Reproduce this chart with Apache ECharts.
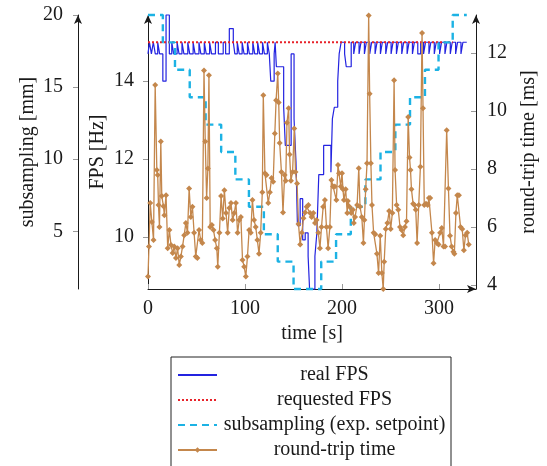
<!DOCTYPE html>
<html>
<head>
<meta charset="utf-8">
<script src="https://cdn.jsdelivr.net/npm/echarts@6/dist/echarts.min.js"></script>
<style>
html,body{margin:0;padding:0;background:#fff}
#main{width:547px;height:466px}
</style>
</head>
<body>
<div id="main"></div>
<script>
const xTicks = [0, 100, 200, 300]
const subTicks = [5, 10, 15, 20]
const fpsTicks = [10, 12, 14]
const rttTicks = [4, 6, 8, 10, 12]

const legendNames = ['real FPS', 'requested FPS', 'subsampling (exp. setpoint)', 'round-trip time']

const reqTime = [0, 314]
const reqVal = [15, 15]

const subTime = [0, 15.3, 27.8, 43, 59.4, 75.4, 90, 104, 119.4, 133.7, 150, 178.5, 193.8, 209, 224, 239.6, 254.9, 270, 285.4, 299.4, 314, 328.5]
const subVal = [20, 18.1, 16.2, 14.3, 12.4, 10.5, 8.6, 6.7, 4.8, 2.9, 1, 2.9, 4.8, 6.7, 8.6, 10.5, 12.4, 14.3, 16.2, 18.1, 20, 20]

const fpsTime = [0, 1.5, 3.5, 5.5, 7.5, 10, 12, 15.3, 18.6, 22, 24.5, 26.5, 30, 32, 35, 37, 41, 43, 46.5, 48.5,
  52.5, 54.5, 58, 60, 63.5, 65.5, 69.5, 72.5, 77.5, 80, 83.8, 87.9, 89.5, 92, 94, 97, 99, 102.5, 104.5, 108,
  110, 113, 115, 118, 120, 123, 125, 126.5, 130, 131, 132.3, 139.8, 141.5, 147.5, 150.5, 152.5, 154, 156.8, 159.4, 162,
  165, 166.5, 172, 174, 176, 181, 188.5, 190, 192, 195.5, 197, 199, 202.6, 204.3, 209.4, 212, 214, 217.5, 219.5, 223,
  225, 228.5, 230.5, 234, 236, 239.5, 241.5, 245, 247, 250.5, 252.5, 256, 258, 261.5, 263.5, 267, 269, 272.5, 274.5, 278,
  281, 284, 286, 289.5, 291.5, 295, 297, 300.5, 302.5, 306, 308, 311.5, 313.5, 317, 319, 322.5, 324.5, 328.5]
const fpsVal = [14.7, 15, 14.7, 15, 14.7, 15, 14.7, 14.0, 15.7, 14.7, 15, 14.7, 15, 14.7, 15, 14.7, 15, 14.7, 15, 14.7,
  15, 14.7, 15, 14.7, 15, 14.7, 15, 14.7, 15, 14.7, 15.35, 15, 14.7, 15, 14.7, 15, 14.7, 15, 14.7, 15,
  14.7, 15, 14.7, 15, 14.7, 15, 14.7, 14.0, 14.7, 15, 14.37, 13.33, 12.35, 14.7, 13.03, 11.92, 10.29, 10.98, 9.92, 10.1,
  9.5, 8.66, 9.5, 10.1, 11.6, 12.35, 11.66, 13.03, 13.33, 14.0, 14.7, 15, 14.7, 14.37, 15, 14.7, 15, 14.7, 15, 14.7,
  15, 14.7, 15, 14.7, 15, 14.7, 15, 14.7, 15, 14.7, 15, 14.7, 15, 14.7, 15, 14.7, 15, 14.7, 15, 14.7,
  15, 14.7, 15, 14.7, 15, 14.7, 15, 14.7, 15, 14.7, 15, 14.7, 15, 14.7, 15, 14.7, 15, 15]

const rttTime = [0, 1.0, 2.3, 4.0, 5.7, 7.4, 9.1, 10.0, 10.8, 11.8, 13.2, 14.2, 15.9, 16.9, 18.6, 20.3, 22.0, 23.7, 25.4, 27.1,
  28.8, 30.5, 32.2, 33.9, 35.6, 37.3, 39.0, 40.7, 42.4, 44.1, 45.8, 47.5, 49.2, 50.9, 52.6, 54.3, 56.0, 57.7, 59.0, 60.4,
  61.7, 62.8, 64.1, 65.8, 67.5, 69.2, 70.9, 71.9, 73.6, 75.3, 77.0, 78.7, 80.4, 82.1, 83.8, 85.5, 87.2, 88.9, 90.6, 92.3,
  94.0, 95.7, 97.4, 99.1, 100.8, 102.5, 104.2, 105.9, 107.6, 109.3, 111.0, 112.7, 114.4, 116.1, 117.8, 118.8, 120.5, 122.2, 123.9, 125.6,
  127.3, 129.0, 130.7, 132.0, 133.7, 134.7, 135.7, 137.5, 139.1, 140.8, 141.9, 143.2, 144.9, 145.9, 147.3, 149, 150.7, 152, 153.6, 155.1,
  156.8, 158.5, 160.2, 161.9, 163.5, 165.3, 167, 168.6, 170.4, 172.1, 173.7, 175.5, 177.2, 178.8, 180.5, 182.3, 183.9, 185.6, 187.4, 189,
  190.7, 192.5, 194.1, 195.8, 196.8, 198.6, 199.9, 200.9, 201.9, 203.7, 205.3, 206, 207.7, 209.4, 211.1, 212.1, 213.4, 215.5, 217.2, 218.5,
  220.3, 222, 223, 224.3, 225.7, 227.4, 228.4, 229.7, 230.8, 232.5, 234.2, 235.9, 237.6, 239.3, 241, 242.4, 243.4, 245, 246.7, 248.5,
  250.1, 251.8, 253.6, 254.6, 256.2, 257.9, 259.7, 261.3, 263, 264.8, 266.4, 268.1, 269.5, 270.5, 271.5, 273.2, 274.6, 275.9, 277.3, 279,
  280.7, 282.4, 283.4, 284.7, 286.5, 288.2, 289.5, 290.8, 292.6, 294.3, 295.9, 297.7, 299.4, 301, 302.7, 304.5, 306.1, 307.8, 309.6, 311.2,
  312.9, 314.7, 315.7, 317.3, 318.7, 320.4, 322.1, 323.8, 325.5, 327.2, 328.9, 330.5]
const rttVal = [4.29, 5.33, 6.83, 6.17, 5.55, 10.9, 7.97, 7.8, 6.76, 6.0, 8.95, 7.07, 6.72, 6.41, 7.1, 5.27, 5.9, 5.38, 5.1, 5.33,
  4.93, 5.27, 4.69, 4.98, 5.33, 5.72, 6.14, 5.8, 7.33, 6.35, 6.7, 5.8, 4.98, 4.93, 5.9, 5.55, 5.45, 11.4, 8.95, 7.0,
  8.02, 11.24, 6.0, 6.07, 5.9, 5.55, 5.27, 4.63, 5.8, 7.07, 6.29, 7.27, 6.48, 5.8, 6.66, 6.83, 6.24, 6.48, 6.83, 5.8,
  6.24, 6.35, 4.86, 4.63, 4.29, 4.98, 5.9, 5.8, 6.93, 6.24, 6.0, 5.55, 5.08, 5.8, 7.2, 10.55, 7.86, 7.8, 6.83, 7.2,
  7.69, 7.56, 9.23, 10.38, 11.3, 10.3, 8.9, 7.9, 6.5, 7.8, 7.6, 9.6, 10.1, 8.5, 7.6, 7.9, 9.4, 7.9, 7.5, 6.1,
  5.4, 5.8, 6.3, 6.5, 6.7, 6.76, 6.48, 6.35, 6.48, 6.14, 6.24, 5.8, 5.27, 6.0, 6.7, 6.93, 6.0, 5.27, 6.0, 7.62,
  7.4, 7.4, 6.93, 8.14, 7.86, 7.4, 7.86, 7.3, 6.93, 7.3, 6.48, 6.9, 6.7, 6.48, 6.6, 6.14, 6.35, 6.76, 8.03, 6.7,
  6.35, 5.45, 6.24, 7.3, 8.2, 13.3, 10.6, 8.2, 6.76, 5.8, 5.75, 5.08, 4.41, 5.7, 4.41, 3.86, 4.8, 5.93, 6.14, 6.55,
  5.93, 6.48, 11.07, 7.97, 6.76, 6.6, 6.0, 5.9, 5.72, 6.0, 6.2, 9.8, 8.4, 7.97, 7.3, 6.8, 6.76, 6.6, 5.45, 6.76,
  8.08, 12.7, 10.1, 6.76, 6.8, 6.76, 7.0, 7.0, 5.8, 4.75, 5.55, 5.45, 5.4, 5.8, 5.97, 5.33, 5.33, 9.34, 7.33, 5.7,
  5.33, 5.15, 5.08, 6.48, 7.1, 7.1, 6.0, 5.93, 5.2, 5.72, 5.8, 5.4]

const zip = (a, b) => a.map((t, i) => [t, b[i]])

const font = 'Liberation Serif'
const ink = '#1a1a1a'
const label = (vals, margin) => ({
  customValues: vals, margin: margin, fontFamily: font, fontSize: 20, color: ink
})
const tick = (vals, inside) => ({
  show: true, customValues: vals, inside: inside, length: 5, lineStyle: { color: '#999' }
})
const line = { show: true, onZero: false, symbol: ['none', 'arrow'], symbolSize: [6, 9], lineStyle: { color: ink, width: 1 } }
const nameStyle = { fontFamily: font, fontSize: 20, color: ink }

// only the round-trip entry keeps its marker in the legend
const legendData = legendNames.map((n, i) => i < 3 ? { name: n, itemStyle: { opacity: 0 } } : { name: n })

let chart = echarts.init(document.getElementById('main'))
chart.setOption({
  animation: false,
  grid: { left: 148, right: 67, top: 15, bottom: 177 },
  legend: {
    data: legendData,
    orient: 'vertical',
    left: 171, top: 357, height: 140,
    padding: [8, 4, 8, 6],
    itemGap: 5,
    itemWidth: 39, itemHeight: 7,
    borderColor: '#222', borderWidth: 1, backgroundColor: '#fff',
    formatter: n => '{t|' + n + '}',
    textStyle: {
      rich: { t: { width: 225, align: 'center', fontFamily: font, fontSize: 20, lineHeight: 20, color: ink } }
    }
  },
  xAxis: {
    type: 'value', min: 0, max: 338,
    name: 'time [s]', nameLocation: 'middle', nameGap: 32, nameTextStyle: nameStyle,
    axisLine: line,
    axisTick: tick(xTicks, true),
    axisLabel: label(xTicks, 10),
    splitLine: { show: false }
  },
  yAxis: [
    {
      type: 'value', position: 'left', offset: 70, min: 1, max: 20,
      name: 'subsampling [mm]', nameLocation: 'middle', nameGap: 40, nameMoveOverlap: false, nameTextStyle: nameStyle,
      axisLine: line, axisTick: tick(subTicks, false), axisLabel: label(subTicks, 15),
      splitLine: { show: false }
    },
    {
      type: 'value', position: 'left', min: 8.66, max: 15.7,
      name: 'FPS [Hz]', nameLocation: 'middle', nameGap: 40, nameMoveOverlap: false, nameTextStyle: nameStyle,
      axisLine: line, axisTick: tick(fpsTicks, false), axisLabel: label(fpsTicks, 14),
      splitLine: { show: false }
    },
    {
      type: 'value', position: 'right', min: 3.86, max: 13.32,
      name: 'round-trip time [ms]', nameLocation: 'middle', nameGap: 43, nameMoveOverlap: false, nameTextStyle: nameStyle,
      axisLine: line, axisTick: tick(rttTicks, true), axisLabel: label(rttTicks, 11),
      splitLine: { show: false }
    }
  ],
  series: [
    {
      name: 'real FPS', type: 'line', yAxisIndex: 1, step: 'end', symbol: 'none', clip: false,
      data: zip(fpsTime, fpsVal),
      lineStyle: { color: '#2323e0', width: 1.2 }, itemStyle: { color: '#2323e0' }
    },
    {
      name: 'requested FPS', type: 'line', yAxisIndex: 1, symbol: 'none',
      data: zip(reqTime, reqVal),
      lineStyle: { color: '#e8222a', width: 2, type: [2, 2] }, itemStyle: { color: '#e8222a' }
    },
    {
      name: 'subsampling (exp. setpoint)', type: 'line', yAxisIndex: 0, step: 'end', symbol: 'none', clip: false,
      data: zip(subTime, subVal),
      lineStyle: { color: '#1cb2e4', width: 2.4, type: [7, 5] }, itemStyle: { color: '#1cb2e4' }
    },
    {
      name: 'round-trip time', type: 'line', yAxisIndex: 2, symbol: 'diamond', symbolSize: 6, clip: false,
      data: zip(rttTime, rttVal),
      lineStyle: { color: '#c4874c', width: 1.3 }, itemStyle: { color: '#c4874c' }
    }
  ]
})
window.addEventListener('resize', () => {
  chart.resize()
})
</script>
</body>
</html>
